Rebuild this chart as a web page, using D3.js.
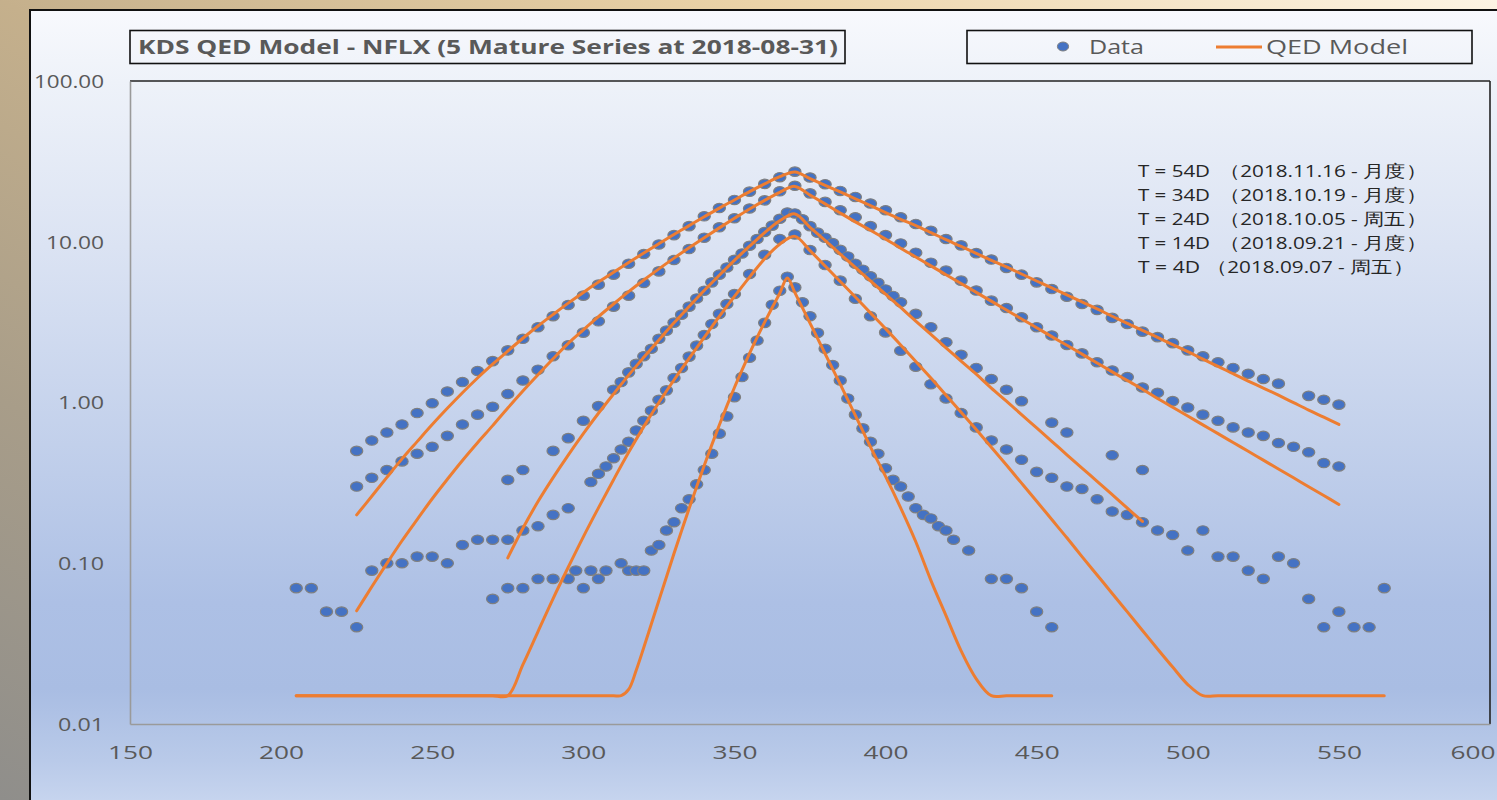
<!DOCTYPE html>
<html>
<head>
<meta charset="utf-8">
<script src="https://cdn.jsdelivr.net/npm/d3@7/dist/d3.min.js"></script>
<style>
  html, body { margin: 0; padding: 0; overflow: hidden; background: #fff; }
  svg { display: block; }
  text { font-family: "Open Sans", "Noto Sans", sans-serif; }
</style>
</head>
<body>
<svg id="chart" width="1497" height="800"></svg>
<script>
// ---- Observed option prices: [strike, price] ----
const data54 = [[225,0.50],[230,0.58],[235,0.65],[240,0.73],[245,0.86],[250,0.99],[255,1.17],[260,1.34],[265,1.57],[270,1.81],[275,2.11],[280,2.49],[285,2.94],[290,3.44],[295,4.04],[300,4.62],[305,5.41],[310,6.24],[315,7.30],[320,8.39],[325,9.62],[330,11.0],[335,12.5],[340,14.4],[345,16.2],[350,18.2],[355,20.5],[360,22.9],[365,25.2],[370,27.3],[375,25.1],[380,22.8],[385,20.7],[390,19.0],[395,17.3],[400,15.7],[405,14.2],[410,12.9],[415,11.7],[420,10.4],[425,9.5],[430,8.5],[435,7.75],[440,6.87],[445,6.24],[450,5.59],[455,5.08],[460,4.55],[465,4.10],[470,3.77],[475,3.36],[480,3.08],[485,2.76],[490,2.55],[495,2.34],[500,2.11],[505,1.94],[510,1.78],[515,1.64],[520,1.51],[525,1.40],[530,1.31],[540,1.10],[545,1.04],[550,0.97]];

const data34 = [[225,0.30],[230,0.34],[235,0.38],[240,0.43],[245,0.48],[250,0.53],[255,0.62],[260,0.73],[265,0.84],[270,0.94],[275,1.13],[280,1.37],[285,1.60],[290,1.94],[295,2.27],[300,2.72],[305,3.20],[310,3.95],[315,4.62],[320,5.54],[325,6.54],[330,7.70],[335,9.01],[340,10.6],[345,12.3],[350,14.0],[355,16.1],[360,18.1],[365,20.6],[370,22.3],[375,20.0],[380,17.7],[385,15.7],[390,14.2],[395,12.5],[400,11.0],[405,9.76],[410,8.55],[415,7.41],[420,6.61],[425,5.73],[430,4.97],[435,4.30],[440,3.87],[445,3.39],[450,2.94],[455,2.61],[460,2.28],[465,2.02],[470,1.78],[475,1.58],[480,1.44],[485,1.24],[490,1.15],[495,1.02],[500,0.93],[505,0.84],[510,0.77],[515,0.70],[520,0.65],[525,0.62],[530,0.56],[535,0.53],[540,0.49],[545,0.42],[550,0.40]];

const data24 = [[275,0.33],[280,0.38],[290,0.50],[295,0.60],[300,0.77],[305,0.95],[310,1.20],[312.5,1.34],[315,1.54],[317.5,1.74],[320,1.94],[322.5,2.16],[325,2.49],[327.5,2.80],[330,3.14],[332.5,3.52],[335,3.95],[337.5,4.44],[340,4.96],[342.5,5.59],[345,6.24],[347.5,6.92],[350,7.73],[352.5,8.46],[355,9.44],[357.5,10.4],[360,11.5],[362.5,12.6],[365,13.9],[367.5,15.2],[370,15.0],[372.5,13.8],[375,12.5],[377.5,11.4],[380,10.6],[382.5,9.8],[385,8.9],[387.5,8.1],[390,7.3],[392.5,6.7],[395,6.1],[397.5,5.55],[400,5.05],[402.5,4.6],[405,4.2],[410,3.56],[415,2.94],[420,2.37],[425,1.98],[430,1.64],[435,1.40],[440,1.20],[445,1.02],[455,0.75],[460,0.65],[475,0.47],[485,0.38]];

const data14 = [[205,0.07],[210,0.07],[215,0.05],[220,0.05],[225,0.04],[230,0.09],[235,0.10],[240,0.10],[245,0.11],[250,0.11],[255,0.10],[260,0.13],[265,0.14],[270,0.14],[275,0.14],[280,0.16],[285,0.17],[290,0.20],[295,0.22],[302.5,0.32],[305,0.36],[307.5,0.40],[310,0.45],[312.5,0.51],[315,0.57],[317.5,0.67],[320,0.77],[322.5,0.89],[325,1.04],[327.5,1.19],[330,1.42],[332.5,1.64],[335,1.93],[337.5,2.26],[340,2.63],[342.5,3.08],[345,3.56],[347.5,4.10],[350,4.73],[355,6.30],[360,8.30],[365,10.4],[370,11.1],[375,8.88],[380,7.16],[385,5.73],[390,4.42],[395,3.44],[400,2.73],[405,2.10],[410,1.67],[415,1.30],[420,1.06],[425,0.86],[430,0.70],[435,0.58],[440,0.51],[445,0.44],[450,0.37],[455,0.34],[460,0.30],[465,0.29],[470,0.25],[475,0.21],[480,0.20],[485,0.18],[490,0.16],[495,0.15],[500,0.12],[505,0.16],[510,0.11],[515,0.11],[520,0.09],[525,0.08],[530,0.11],[535,0.10],[540,0.06],[545,0.04],[550,0.05],[555,0.04],[560,0.04],[565,0.07]];

const data4 = [[270,0.06],[275,0.07],[280,0.07],[285,0.08],[290,0.08],[295,0.08],[297.5,0.09],[300,0.07],[302.5,0.09],[305,0.08],[307.5,0.09],[312.5,0.10],[315,0.09],[317.5,0.09],[320,0.09],[322.5,0.12],[325,0.13],[327.5,0.16],[330,0.18],[332.5,0.22],[335,0.25],[337.5,0.31],[340,0.38],[342.5,0.48],[345,0.64],[347.5,0.82],[350,1.08],[352.5,1.44],[355,1.90],[357.5,2.43],[360,3.13],[362.5,4.06],[365,4.96],[367.5,6.06],[370,5.20],[372.5,4.20],[375,3.44],[377.5,2.71],[380,2.16],[382.5,1.71],[385,1.37],[387.5,1.06],[390,0.84],[392.5,0.69],[395,0.57],[397.5,0.48],[400,0.39],[402.5,0.33],[405,0.30],[407.5,0.26],[410,0.22],[412.5,0.20],[415,0.19],[417.5,0.17],[420,0.16],[422.5,0.14],[427.5,0.12],[435,0.08],[440,0.08],[445,0.07],[450,0.05],[455,0.04]];

// ---- QED model curves: [strike, model price] ----
const model54 = [[225,0.200],[230,0.261],[235,0.342],[240,0.446],[245,0.571],[250,0.729],[255,0.920],[260,1.15],[265,1.42],[270,1.73],[275,2.09],[280,2.51],[285,2.99],[290,3.53],[295,4.15],[300,4.84],[305,5.61],[310,6.47],[315,7.43],[320,8.51],[325,9.73],[330,11.1],[335,12.6],[340,14.3],[345,16.2],[350,18.2],[355,20.5],[360,22.9],[365,25.4],[370,27.2],[375,24.7],[380,22.4],[385,20.4],[390,18.5],[395,16.8],[400,15.2],[405,13.8],[410,12.6],[415,11.4],[420,10.3],[425,9.35],[430,8.47],[435,7.67],[440,6.97],[445,6.30],[450,5.70],[455,5.16],[460,4.67],[465,4.22],[470,3.82],[475,3.44],[480,3.11],[485,2.81],[490,2.54],[495,2.29],[500,2.07],[505,1.86],[510,1.68],[515,1.51],[520,1.36],[525,1.23],[530,1.11],[535,0.998],[540,0.897],[545,0.811],[550,0.730]];

const model34 = [[225,0.0506],[230,0.0714],[235,0.0998],[240,0.138],[245,0.187],[250,0.252],[255,0.333],[260,0.436],[265,0.562],[270,0.718],[275,0.925],[280,1.18],[285,1.49],[290,1.87],[295,2.33],[300,2.83],[305,3.42],[310,4.10],[315,4.89],[320,5.78],[325,6.78],[330,7.91],[335,9.18],[340,10.6],[345,12.2],[350,14.0],[355,16.0],[360,18.1],[365,20.3],[370,22.1],[375,19.5],[380,17.2],[385,15.1],[390,13.3],[395,11.8],[400,10.4],[405,9.12],[410,8.04],[415,7.08],[420,6.24],[425,5.50],[430,4.84],[435,4.27],[440,3.76],[445,3.31],[450,2.92],[455,2.57],[460,2.27],[465,2.00],[470,1.76],[475,1.55],[480,1.37],[485,1.21],[490,1.06],[495,0.935],[500,0.824],[505,0.726],[510,0.640],[515,0.564],[520,0.497],[525,0.438],[530,0.386],[535,0.340],[540,0.299],[545,0.264],[550,0.232]];

const model24 = [[275,0.108],[280,0.165],[285,0.242],[290,0.341],[295,0.471],[300,0.640],[305,0.857],[310,1.13],[315,1.48],[320,1.91],[325,2.45],[330,3.13],[335,3.95],[340,4.97],[345,6.19],[350,7.66],[355,9.38],[360,11.4],[365,13.5],[370,14.9],[375,12.3],[380,10.2],[385,8.38],[390,6.92],[395,5.71],[400,4.72],[405,3.90],[410,3.21],[415,2.65],[420,2.19],[425,1.81],[430,1.50],[435,1.23],[440,1.02],[445,0.841],[450,0.695],[455,0.574],[460,0.473],[465,0.391],[470,0.323],[475,0.267],[480,0.220],[485,0.182]];

const model14 = [[205,0.015],[210,0.015],[215,0.015],[220,0.015],[225,0.015],[230,0.015],[235,0.015],[240,0.015],[245,0.015],[250,0.015],[255,0.015],[260,0.015],[265,0.015],[270,0.015],[275,0.015],[280,0.0234],[285,0.0376],[290,0.0603],[295,0.0944],[300,0.146],[305,0.221],[310,0.331],[315,0.490],[320,0.708],[325,1.00],[330,1.38],[335,1.88],[340,2.54],[345,3.43],[350,4.57],[355,6.03],[360,7.85],[365,9.66],[370,10.8],[375,8.81],[380,7.06],[385,5.66],[390,4.53],[395,3.61],[400,2.88],[405,2.28],[410,1.80],[415,1.42],[420,1.11],[425,0.871],[430,0.679],[435,0.527],[440,0.408],[445,0.315],[450,0.243],[455,0.187],[460,0.144],[465,0.110],[470,0.0845],[475,0.0649],[480,0.0498],[485,0.0382],[490,0.0293],[495,0.0226],[500,0.0176],[505,0.015],[510,0.015],[515,0.015],[520,0.015],[525,0.015],[530,0.015],[535,0.015],[540,0.015],[545,0.015],[550,0.015],[555,0.015],[560,0.015],[565,0.015]];

const model4 = [[205,0.015],[210,0.015],[215,0.015],[220,0.015],[225,0.015],[230,0.015],[235,0.015],[240,0.015],[245,0.015],[250,0.015],[255,0.015],[260,0.015],[265,0.015],[270,0.015],[275,0.015],[280,0.015],[285,0.015],[290,0.015],[295,0.015],[300,0.015],[305,0.015],[310,0.015],[312.5,0.015],[315,0.0164],[317.5,0.0216],[320,0.0299],[322.5,0.0419],[325,0.0587],[327.5,0.0822],[330,0.115],[332.5,0.159],[335,0.219],[337.5,0.299],[340,0.406],[342.5,0.545],[345,0.724],[347.5,0.953],[350,1.24],[352.5,1.59],[355,2.02],[357.5,2.54],[360,3.16],[362.5,3.90],[365,4.78],[367.5,5.96],[370,4.82],[375,3.12],[380,2.01],[385,1.30],[390,0.832],[395,0.530],[400,0.347],[405,0.221],[410,0.136],[415,0.0783],[420,0.0472],[425,0.0285],[430,0.0191],[435,0.015],[440,0.015],[445,0.015],[450,0.015],[455,0.015]];

// ---- Labels ----
const chartTitle = "KDS QED Model - NFLX (5 Mature Series at 2018-08-31)";
const legendLabels = ["Data", "QED Model"];
const seriesNotes = [
  "T = 54D （2018.11.16 - 月度）",
  "T = 34D （2018.10.19 - 月度）",
  "T = 24D （2018.10.05 - 周五）",
  "T = 14D （2018.09.21 - 月度）",
  "T = 4D （2018.09.07 - 周五）"
];
const xTicks = [150, 200, 250, 300, 350, 400, 450, 500, 550, 600];
const yTicks = [0.01, 0.1, 1, 10, 100];

const allData = [data54, data34, data24, data14, data4];
const allModels = [model54, model34, model24, model14, model4];

// ---- Layout ----
const W = 1497, H = 800;
const plot = { left: 130, right: 1490, top: 81, bottom: 724 };
const ORANGE = "#ed7d31", BLUE = "#4472c4", GREY_TEXT = "#595959";

const svg = d3.select("#chart");
const defs = svg.append("defs");

// backdrop behind the chart panel
const back = defs.append("linearGradient").attr("id", "backdrop")
  .attr("x1", 0).attr("y1", 1).attr("x2", 1).attr("y2", 0);
[[0, "#8f8e8b"], [0.25, "#a89d89"], [0.5, "#c5b08c"], [0.75, "#ebd3a8"], [1, "#fdf4e4"]]
  .forEach(([o, c]) => back.append("stop").attr("offset", o).attr("stop-color", c));

// chart panel fill: pale at the top, blue lower down
const panel = defs.append("linearGradient").attr("id", "panelFill")
  .attr("gradientUnits", "userSpaceOnUse")
  .attr("x1", 0).attr("y1", 10).attr("x2", 0).attr("y2", 800);
[[0, "#f8f9fd"], [0.09, "#eef2f9"], [0.3, "#dbe3f3"], [0.55, "#c2d0eb"], [0.75, "#adc0e5"], [0.86, "#a9bde3"], [0.95, "#b9cae9"], [1, "#c6d4ee"]]
  .forEach(([o, c]) => panel.append("stop").attr("offset", o).attr("stop-color", c));

svg.append("rect").attr("x", 0).attr("y", 0).attr("width", W).attr("height", H)
  .attr("fill", "url(#backdrop)");

svg.append("rect").attr("x", 30).attr("y", 10).attr("width", W + 20).attr("height", H + 20)
  .attr("fill", "url(#panelFill)").attr("stroke", "#111").attr("stroke-width", 2);

// ---- Scales ----
const x = d3.scaleLinear().domain([150, 600]).range([plot.left, plot.right]);
const y = d3.scaleLog().domain([0.01, 100]).range([plot.bottom, plot.top]);

// plot frame: dark top/right, grey axes left/bottom
svg.append("line").attr("x1", plot.left).attr("x2", plot.right).attr("y1", plot.top).attr("y2", plot.top)
  .attr("stroke", "#222").attr("stroke-width", 1.6);
svg.append("line").attr("x1", plot.right).attr("x2", plot.right).attr("y1", plot.top).attr("y2", plot.bottom)
  .attr("stroke", "#222").attr("stroke-width", 1.6);

const yAxis = svg.append("g").attr("transform", `translate(${plot.left},0)`)
  .call(d3.axisLeft(y).tickValues(yTicks).tickFormat(d3.format(".2f")).tickSize(0).tickPadding(26));
const xAxis = svg.append("g").attr("transform", `translate(0,${plot.bottom})`)
  .call(d3.axisBottom(x).tickValues(xTicks).tickFormat(d3.format("d")).tickSize(0).tickPadding(22));

[yAxis, xAxis].forEach(g => {
  g.select(".domain").attr("stroke", "#9a9a9a").attr("stroke-width", 1.6);
  g.selectAll("text").attr("fill", GREY_TEXT).attr("font-family", "Open Sans, sans-serif")
    .attr("font-size", 18.5);
});
yAxis.selectAll("text").attr("dy", "0.35em")
  .attr("textLength", d => ({ "100.00": 70, "10.00": 58, "1.00": 46, "0.10": 46, "0.01": 46 })[d3.format(".2f")(d)])
  .attr("lengthAdjust", "spacingAndGlyphs");
xAxis.selectAll("text").attr("font-size", 19).attr("textLength", 45).attr("lengthAdjust", "spacingAndGlyphs");
// keep the last label inside the page edge
xAxis.selectAll("text").filter(d => d === 600)
  .attr("text-anchor", "end").attr("x", W - 2 - x(600));

// ---- Title and legend boxes ----
svg.append("rect").attr("x", 130).attr("y", 30.5).attr("width", 715).attr("height", 33)
  .attr("fill", "none").attr("stroke", "#111").attr("stroke-width", 1.6);
svg.append("text").attr("x", 138).attr("y", 54).text(chartTitle)
  .attr("font-size", 19).attr("font-weight", "bold").attr("fill", GREY_TEXT)
  .attr("textLength", 700).attr("lengthAdjust", "spacingAndGlyphs");

svg.append("rect").attr("x", 967).attr("y", 30.5).attr("width", 505).attr("height", 33)
  .attr("fill", "none").attr("stroke", "#111").attr("stroke-width", 1.6);
svg.append("ellipse").attr("cx", 1063).attr("cy", 46.5).attr("rx", 5.6).attr("ry", 4.5)
  .attr("fill", BLUE).attr("stroke", "#808080").attr("stroke-width", 1);
svg.append("text").attr("x", 1089).attr("y", 53.5).text(legendLabels[0])
  .attr("font-size", 20).attr("fill", GREY_TEXT).attr("textLength", 55).attr("lengthAdjust", "spacingAndGlyphs");
svg.append("line").attr("x1", 1216).attr("x2", 1262).attr("y1", 47).attr("y2", 47)
  .attr("stroke", ORANGE).attr("stroke-width", 3);
svg.append("text").attr("x", 1266).attr("y", 53.5).text(legendLabels[1])
  .attr("font-size", 20).attr("fill", GREY_TEXT).attr("textLength", 142).attr("lengthAdjust", "spacingAndGlyphs");

// ---- Series notes: tenor label, then the expiry in full-width brackets ----
const notes = svg.append("g").attr("fill", "#262626").attr("font-size", 16.5)
  .attr("font-family", "Open Sans, 'Noto Sans CJK SC', sans-serif");
seriesNotes.forEach((s, i) => {
  const cut = s.indexOf("（");
  const head = s.slice(0, cut).trim(), tail = s.slice(cut);
  const baseY = 177.3 + i * 23.85;
  const short = head.length < 7;
  notes.append("text").attr("x", 1138).attr("y", baseY).text(head)
    .attr("textLength", short ? 62 : 72).attr("lengthAdjust", "spacingAndGlyphs");
  notes.append("text").attr("x", short ? 1206 : 1219).attr("y", baseY).text(tail)
    .attr("font-family", "'Noto Sans CJK SC', 'Open Sans', sans-serif")
    .attr("textLength", 208).attr("lengthAdjust", "spacingAndGlyphs");
});

// ---- Data points ----
const dots = svg.append("g");
allData.forEach(series => {
  dots.selectAll(null).data(series).join("ellipse")
    .attr("cx", d => x(d[0])).attr("cy", d => y(d[1]))
    .attr("rx", 6.1).attr("ry", 4.7)
    .attr("fill", BLUE).attr("stroke", "#7f7f7f").attr("stroke-width", 1.2);
});

// ---- Model curves ----
const line = d3.line().x(d => x(d[0])).y(d => y(d[1])).curve(d3.curveCatmullRom.alpha(0.5));
svg.append("g").selectAll("path").data(allModels).join("path")
  .attr("d", line).attr("fill", "none").attr("stroke", ORANGE)
  .attr("stroke-width", 3).attr("stroke-linejoin", "round").attr("stroke-linecap", "round");
</script>
</body>
</html>
